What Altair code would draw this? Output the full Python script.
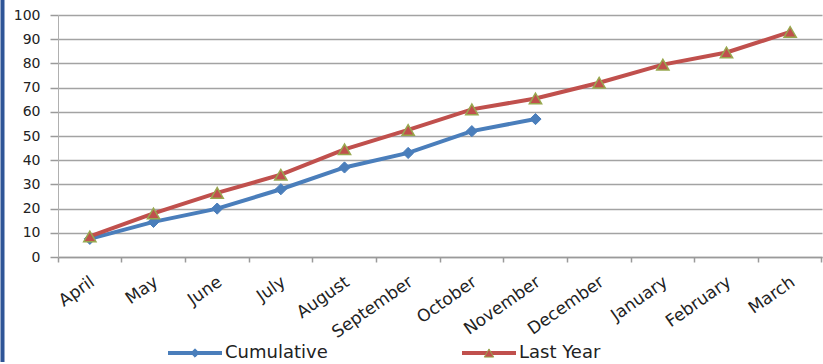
import altair as alt
import pandas as pd

# Monthly cumulative totals for the financial year (April to March)
months = ["April", "May", "June", "July", "August", "September",
          "October", "November", "December", "January", "February", "March"]
cumulative = [7.5, 14.5, 20, 28, 37, 43, 52, 57]
last_year = [8.5, 18, 26.5, 34, 44.5, 52.5, 61, 65.5, 72, 79.5, 84.5, 93]
series_names = ["Cumulative", "Last Year"]
y_ticks = list(range(0, 101, 10))

BLUE = "#4a7ebb"
RED = "#c0504d"
OLIVE = "#98a84f"
FONT = "DejaVu Sans"

rows = [{"month": m, "value": v, "series": "Cumulative"} for m, v in zip(months, cumulative)]
rows += [{"month": m, "value": v, "series": "Last Year"} for m, v in zip(months, last_year)]
df = pd.DataFrame(rows)

x_enc = alt.X(
    "month:N",
    sort=months,
    scale=alt.Scale(type="band", domain=months, paddingInner=0, paddingOuter=0),
    axis=alt.Axis(
        title=None,
        bandPosition=1,
        tickExtra=True,
        labelAngle=-35,
        labelAlign="right",
        labelBaseline="middle",
        labelPadding=18,
        labelOffset=3,
        labelFont=FONT,
        labelFontSize=17,
        labelColor="#222222",
        domainColor="#9a9a9a",
        domainWidth=1.5,
        tickColor="#9a9a9a",
        tickWidth=1.5,
        tickSize=5,
        grid=False,
    ),
)
y_enc = alt.Y(
    "value:Q",
    scale=alt.Scale(domain=[0, 100], nice=False),
    axis=alt.Axis(
        title=None,
        values=y_ticks,
        labelFont=FONT,
        labelFontSize=14,
        labelColor="#222222",
        labelPadding=10,
        grid=True,
        gridColor="#a3a3a3",
        gridWidth=1.5,
        domainColor="#b0b0b0",
        domainWidth=1,
        tickColor="#9a9a9a",
        tickWidth=1.5,
        tickSize=8,
    ),
)

base = alt.Chart(df)

lines = base.mark_line(strokeWidth=4).encode(
    x=x_enc,
    y=y_enc,
    color=alt.Color("series:N", scale=alt.Scale(domain=series_names, range=[BLUE, RED]), legend=None),
    detail="series:N",
)

cum_points = base.transform_filter(alt.datum.series == "Cumulative").mark_point(
    shape="diamond", filled=True, size=125, fill=BLUE, stroke=BLUE, strokeWidth=1, opacity=1
).encode(x=x_enc, y=y_enc)

ly_points = base.transform_filter(alt.datum.series == "Last Year").mark_point(
    shape="triangle-up", filled=True, size=150, fill=RED, stroke=OLIVE, strokeWidth=1.5, opacity=1
).encode(x=x_enc, y=y_enc)

# Legend below the axis: line sample with its marker, followed by the series name
LEG_Y = 338
KEY_LEN = 54


def legend_item(name, color, shape, size, edge, x0):
    item = alt.Chart(pd.DataFrame({"series": [name]}))
    seg = item.mark_rule(color=color, strokeWidth=4).encode(
        x=alt.value(x0), x2=alt.value(x0 + KEY_LEN), y=alt.value(LEG_Y)
    )
    marker = item.mark_point(
        shape=shape, filled=True, size=size, fill=color, stroke=edge, strokeWidth=1, opacity=1
    ).encode(x=alt.value(x0 + KEY_LEN / 2), y=alt.value(LEG_Y))
    label = item.mark_text(
        align="left", baseline="middle", font=FONT, fontSize=18, color="#222222"
    ).encode(x=alt.value(x0 + KEY_LEN + 3), y=alt.value(LEG_Y), text="series:N")
    return [seg, marker, label]


legend_layers = (
    legend_item(series_names[0], BLUE, "diamond", 70, BLUE, 110)
    + legend_item(series_names[1], RED, "triangle-up", 90, OLIVE, 404)
)

# Dark blue frame edge on the left side of the chart
frame = alt.Chart(pd.DataFrame({"k": [0]})).mark_rule(color="#2f5597", strokeWidth=4).encode(
    x=alt.value(-55.5), y=alt.value(-15), y2=alt.value(347)
)

chart = (
    alt.layer(lines, cum_points, ly_points, *legend_layers, frame)
    .properties(
        width=764,
        height=242,
        autosize=alt.AutoSizeParams(type="none"),
        padding={"left": 58, "top": 15, "right": 1, "bottom": 107},
        background="white",
    )
    .configure_view(stroke=None)
)

chart.save("out.html", embed_options={"renderer": "svg", "actions": False})
